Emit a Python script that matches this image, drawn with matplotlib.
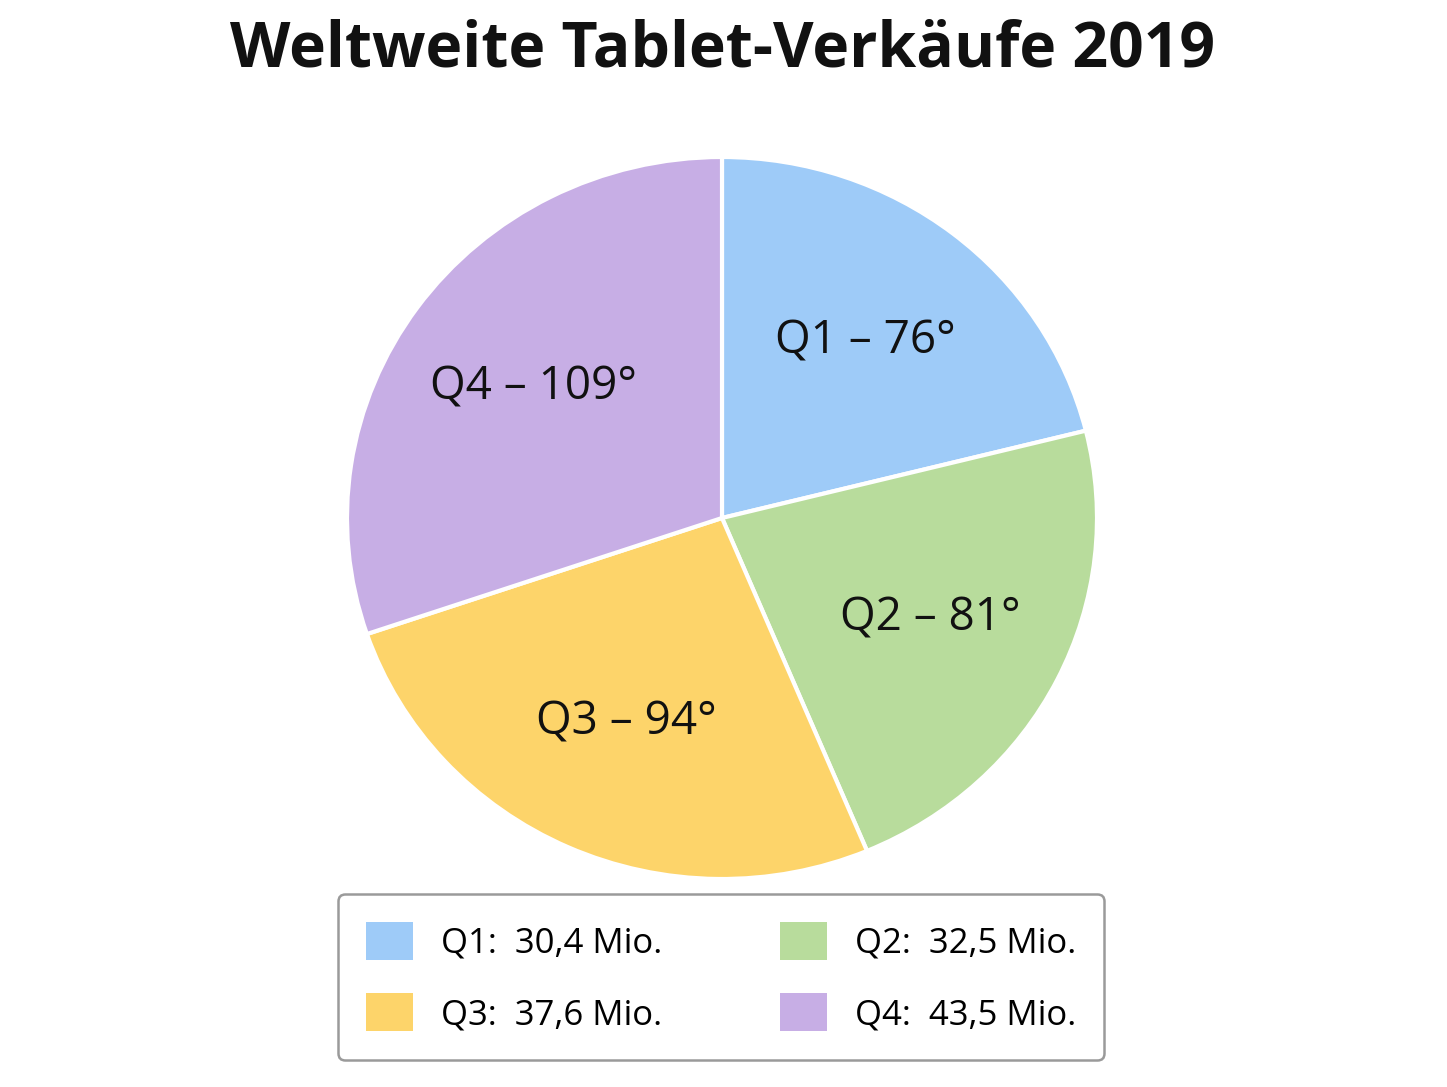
import matplotlib
matplotlib.use("Agg")
import matplotlib.pyplot as plt
from matplotlib.patches import Patch

plt.rcParams['font.family'] = ['Open Sans', 'DejaVu Sans']

quarters = ["Q1", "Q2", "Q3", "Q4"]
sales = [30.4, 32.5, 37.6, 43.5]
sales_text = ["30,4", "32,5", "37,6", "43,5"]
degrees = [76, 81, 94, 109]
colors = ["#9ecbf8", "#b8dc9c", "#fdd46a", "#c7aee5"]
title = "Weltweite Tablet-Verkäufe 2019"

W, H = 1447, 1087
fig = plt.figure(figsize=(W / 100, H / 100), dpi=100)
fig.patch.set_facecolor("white")

cx, cy, rx, ry = 722, 518, 375, 361
ax = fig.add_axes([(cx - rx) / W, (H - cy - ry) / H, 2 * rx / W, 2 * ry / H])
labels = [f"{q} – {d}°" for q, d in zip(quarters, degrees)]
wedges, texts = ax.pie(sales, colors=colors, startangle=90, counterclock=False,
                       labels=labels, labeldistance=0.62,
                       wedgeprops=dict(edgecolor="white", linewidth=3),
                       textprops=dict(fontsize=33, color="#111111"))
for t in texts:
    t.set_ha("center")
    t.set_va("center")
ax.set_aspect("auto")
ax.set_xlim(-1, 1)
ax.set_ylim(-1, 1)
ax.axis("off")

fig.text(cx / W, 1 - 50 / H, title, ha="center", va="center",
         fontsize=45, fontweight="bold", color="#111111")

handles = [Patch(facecolor=c, edgecolor="none") for c in colors]
leg_labels = [f"{q}:  {s} Mio." for q, s in zip(quarters, sales_text)]
order = [0, 2, 1, 3]
leg = fig.legend([handles[i] for i in order], [leg_labels[i] for i in order],
                 ncol=2, loc="center", bbox_to_anchor=(721 / W, 1 - 977 / H),
                 fontsize=25, frameon=True, fancybox=True,
                 handlelength=1.35, handleheight=1.3, handletextpad=0.8,
                 columnspacing=3.4, labelspacing=0.95, borderpad=0.8,
                 borderaxespad=0)
frame = leg.get_frame()
frame.set_edgecolor("#9a9a9a")
frame.set_linewidth(1.8)
frame.set_facecolor("white")
frame.set_alpha(1)

fig.savefig("out.png", dpi=100)
